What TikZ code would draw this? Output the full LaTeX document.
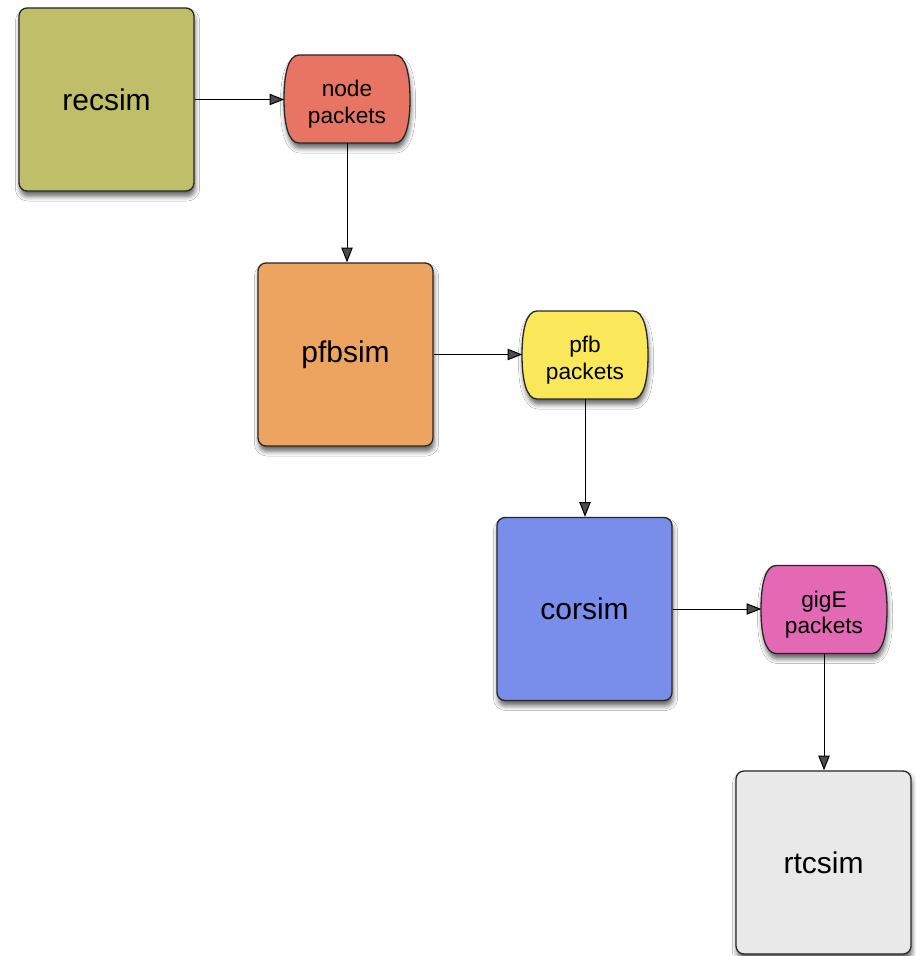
\documentclass[tikz,border=0pt]{standalone}
\usepackage{fontspec}
\setmainfont{Liberation Sans}
\usetikzlibrary{arrows.meta,shadows.blur,backgrounds}
\def\px{0.75pt}
\definecolor{recc}{RGB}{191,191,106}
\definecolor{nodec}{RGB}{232,117,100}
\definecolor{pfbc}{RGB}{236,164,96}
\definecolor{pfbpc}{RGB}{250,232,90}
\definecolor{corc}{RGB}{121,141,235}
\definecolor{gigc}{RGB}{228,105,180}
\definecolor{rtcc}{RGB}{233,233,233}
\tikzset{
  softshadow/.style={blur shadow={shadow xshift=0.8pt, shadow yshift=-4pt,
      shadow blur radius=3.5pt, shadow opacity=60}},
  simbox/.style={rectangle, draw=black!85, line width=1.3*\px,
      rounded corners=8*\px, minimum width=175*\px, minimum height=183*\px,
      font=\fontsize{22.5}{27}\selectfont, softshadow},
  packet/.style={inner sep=0pt, minimum width=125*\px, minimum height=88*\px,
      align=center, font=\fontsize{17}{20}\selectfont},
  packetline/.style={draw=black!85, line width=1.3*\px, softshadow},
  flow/.style={line width=1*\px, -{Triangle[length=11pt,width=8.5pt]}},
}
% two-line packet label, set a little below the middle of its shape
\newcommand\twolines[2]{\rule{0pt}{20pt}#1\\#2}
% outline of a packet node: flat top and bottom, bulging sides
\newcommand\packetshape[2]{%
  \path[packetline, fill=#2, shift={(#1.center)}]
    (-48,-44) -- (48,-44)
    .. controls (59,-44) and (63,-24) .. (63,0)
    .. controls (63,24) and (59,44) .. (48,44)
    -- (-48,44)
    .. controls (-59,44) and (-63,24) .. (-63,0)
    .. controls (-63,-24) and (-59,-44) .. (-48,-44) -- cycle;}
\begin{document}
\begin{tikzpicture}[x=\px, y=-\px]
  \useasboundingbox (0,0) rectangle (915,956);

  % processing stages
  \node[simbox, fill=recc] (recsim) at (106.5,99.5) {recsim};
  \node[simbox, fill=pfbc] (pfbsim) at (345.5,354.5) {pfbsim};
  \node[simbox, fill=corc] (corsim) at (584.5,609) {corsim};
  \node[simbox, fill=rtcc] (rtcsim) at (823.5,862.5) {rtcsim};

  % packet streams between stages
  \node[packet] (nodep) at (347,99) {\twolines{node}{packets}};
  \node[packet] (pfbp) at (585,355) {\twolines{pfb}{packets}};
  \node[packet] (gigp) at (824,609.5) {\twolines{gigE}{packets}};

  \begin{pgfonlayer}{background}
    \fill[white] (0,0) rectangle (915,956);
    \packetshape{nodep}{nodec}
    \packetshape{pfbp}{pfbpc}
    \packetshape{gigp}{gigc}
  \end{pgfonlayer}

  % data flow
  \draw[flow] (recsim.east) -- (recsim.east -| nodep.west);
  \draw[flow] (nodep.south) -- (nodep.south |- pfbsim.north);
  \draw[flow] (pfbsim.east) -- (pfbsim.east -| pfbp.west);
  \draw[flow] (pfbp.south) -- (pfbp.south |- corsim.north);
  \draw[flow] (corsim.east) -- (corsim.east -| gigp.west);
  \draw[flow] (gigp.south) -- (gigp.south |- rtcsim.north);
\end{tikzpicture}
\end{document}
